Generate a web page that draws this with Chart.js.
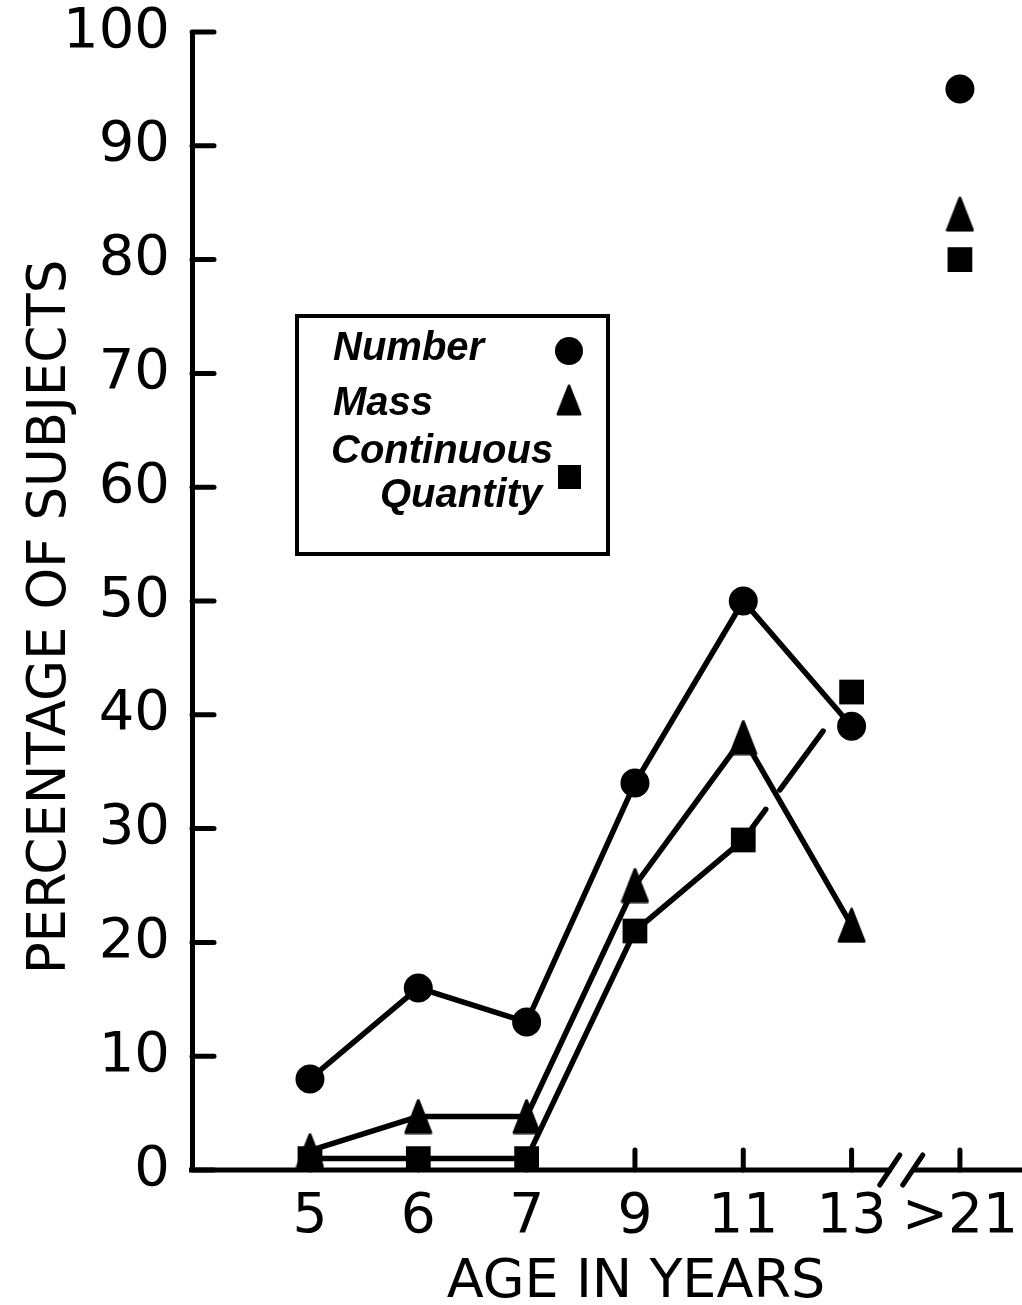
<!DOCTYPE html>
<html>
<head>
<meta charset="utf-8">
<script src="https://cdn.jsdelivr.net/npm/chart.js@4"></script>
<style>
  html, body { margin: 0; padding: 0; background: #fff; }
  canvas { display: block; }
</style>
</head>
<body>
<canvas id="chartCanva" width="1022" height="1305"></canvas>
<script>
// ages on the x axis (13 and >21 are separated by an axis break)
const ageLabels = ["5", "6", "7", "9", "11", "13", ">21"];

// percentage of subjects, one value per age
const numberPct = [8, 16, 13, 34, 50, 39, 95];
const massPct = [1.7, 4.7, 4.7, 25, 38, 21.5, 84];
const quantityPct = [1, 1, 1, 21, 29, 42, 80];

const yTicks = [0, 10, 20, 30, 40, 50, 60, 70, 80, 90, 100];

const xTitle = "AGE IN YEARS";
const yTitle = "PERCENTAGE OF SUBJECTS";

const legendItems = [
    { text: ["Number"], style: "circle" },
    { text: ["Mass"], style: "triangle" },
    { text: ["Continuous", "Quantity"], style: "rect" },
];

// tall, slightly rounded triangle like the hand drawn one
function makeTriangle(w, h) {
    const c = document.createElement("canvas");
    c.width = w;
    c.height = h;
    const g = c.getContext("2d");
    g.fillStyle = "#000";
    g.strokeStyle = "#000";
    g.lineJoin = "round";
    g.lineWidth = 3;
    g.beginPath();
    g.moveTo(w / 2, 2);
    g.lineTo(w - 2, h - 2);
    g.lineTo(2, h - 2);
    g.closePath();
    g.fill();
    g.stroke();
    return c;
}
const triangleImg = makeTriangle(29, 36);

// points as {x, y} so the x axis can keep its unequal age spacing
function toPoints(values) {
    return values.map((v, i) => ({ x: i + 1, y: v }));
}

// no line across the axis break (13 -> >21)
const hideBreak = (ctx) => (ctx.p1DataIndex === ageLabels.length - 1 ? "rgba(0,0,0,0)" : "#000");

// hand drawn axes: inner ticks, broken x axis, titles, boxed legend
const axesPlugin = {
    id: "handAxes",
    afterDraw(chart) {
        const { ctx, chartArea, scales } = chart;
        const x = scales.x;
        const y = scales.y;
        ctx.save();
        ctx.strokeStyle = "#000";
        ctx.fillStyle = "#000";
        ctx.lineWidth = 5;
        ctx.lineCap = "round";

        // y ticks pointing into the plot
        yTicks.forEach((v) => {
            const py = y.getPixelForValue(v);
            ctx.beginPath();
            ctx.moveTo(chartArea.left, py);
            ctx.lineTo(chartArea.left + 22, py);
            ctx.stroke();
        });

        // x axis with a // break
        const bx = (x.getPixelForValue(6) + x.getPixelForValue(7)) / 2 - 5;
        const base = chartArea.bottom;
        ctx.lineCap = "butt";
        ctx.beginPath();
        ctx.moveTo(chartArea.left - 3, base);
        ctx.lineTo(bx - 9, base);
        ctx.moveTo(bx + 11, base);
        ctx.lineTo(chartArea.right, base);
        ctx.stroke();
        ctx.lineCap = "round";
        [-11, 12].forEach((d) => {
            ctx.beginPath();
            ctx.moveTo(bx + d - 10, base + 15);
            ctx.lineTo(bx + d + 10, base - 15);
            ctx.stroke();
        });

        // x ticks pointing up
        ageLabels.forEach((l, i) => {
            const px = x.getPixelForValue(i + 1);
            ctx.beginPath();
            ctx.moveTo(px, base);
            ctx.lineTo(px, base - 20);
            ctx.stroke();
        });

        // axis titles
        ctx.textAlign = "center";
        ctx.textBaseline = "alphabetic";
        ctx.font = "54px 'DejaVu Sans', sans-serif";
        ctx.fillText(xTitle, 636, 1297);
        ctx.save();
        ctx.translate(65, 617);
        ctx.rotate(-Math.PI / 2);
        ctx.font = "53px 'DejaVu Sans', sans-serif";
        ctx.fillText(yTitle, 0, 0);
        ctx.restore();

        // legend box
        ctx.lineWidth = 4;
        ctx.lineCap = "butt";
        ctx.strokeRect(297, 316, 311, 238);
        ctx.font = "bold italic 40px 'Liberation Sans', Arial, sans-serif";
        ctx.textBaseline = "alphabetic";
        ctx.textAlign = "left";
        ctx.fillText(legendItems[0].text[0], 333, 360);
        ctx.fillText(legendItems[1].text[0], 333, 415);
        ctx.fillText(legendItems[2].text[0], 331, 463);
        ctx.fillText(legendItems[2].text[1], 380, 507);

        ctx.beginPath();
        ctx.arc(569, 351, 14, 0, Math.PI * 2);
        ctx.fill();
        ctx.drawImage(triangleImg, 569 - 13, 400 - 16, 26, 32);
        ctx.fillRect(558, 465, 23, 24);
        ctx.restore();
    },
};

new Chart(document.getElementById("chartCanva"), {
    type: "line",
    data: {
        datasets: [
            {
                label: "Number",
                data: toPoints(numberPct),
                pointStyle: "circle",
                pointRadius: 14.5,
                segment: { borderColor: hideBreak },
            },
            {
                label: "Mass",
                data: toPoints(massPct),
                pointStyle: triangleImg,
                pointRadius: 15,
                segment: { borderColor: hideBreak },
            },
            {
                label: "Continuous Quantity",
                data: toPoints(quantityPct),
                pointStyle: "rect",
                pointRadius: 17.5,
                segment: {
                    borderColor: hideBreak,
                    // the 11 -> 13 line is broken where it crosses the others
                    borderDash: (ctx) => (ctx.p0DataIndex === 4 ? [38, 24, 73, 200] : undefined),
                },
            },
        ],
    },
    options: {
        responsive: false,
        animation: false,
        clip: false,
        layout: { autoPadding: false, padding: { top: 32, right: 0, left: 0, bottom: 0 } },
        elements: {
            line: { borderColor: "#000", borderWidth: 5.5, tension: 0, fill: false, borderCapStyle: "round" },
            point: { backgroundColor: "#000", borderColor: "#000", borderWidth: 0 },
        },
        plugins: {
            legend: { display: false },
            tooltip: { enabled: false },
        },
        scales: {
            x: {
                type: "linear",
                min: -0.089,
                max: 7.573,
                afterBuildTicks: (scale) => {
                    scale.ticks = ageLabels.map((l, i) => ({ value: i + 1 }));
                },
                afterFit: (scale) => {
                    scale.height = 135;
                    scale.paddingLeft = 0;
                    scale.paddingRight = 0;
                },
                grid: { display: false },
                border: { display: false },
                ticks: {
                    autoSkip: false,
                    maxRotation: 0,
                    color: "#000",
                    padding: 12,
                    font: { family: "'DejaVu Sans', sans-serif", size: 55, lineHeight: 1 },
                    callback: (v) => ageLabels[v - 1],
                },
            },
            y: {
                min: 0,
                max: 100,
                afterFit: (scale) => {
                    scale.width = 192;
                    scale.paddingTop = 0;
                    scale.paddingBottom = 0;
                },
                grid: { display: false },
                border: { display: true, color: "#000", width: 5 },
                ticks: {
                    stepSize: 10,
                    color: "#000",
                    padding: 14,
                    font: { family: "'DejaVu Sans', sans-serif", size: 56, lineHeight: 1 },
                },
            },
        },
    },
    plugins: [axesPlugin],
});
</script>
</body>
</html>
